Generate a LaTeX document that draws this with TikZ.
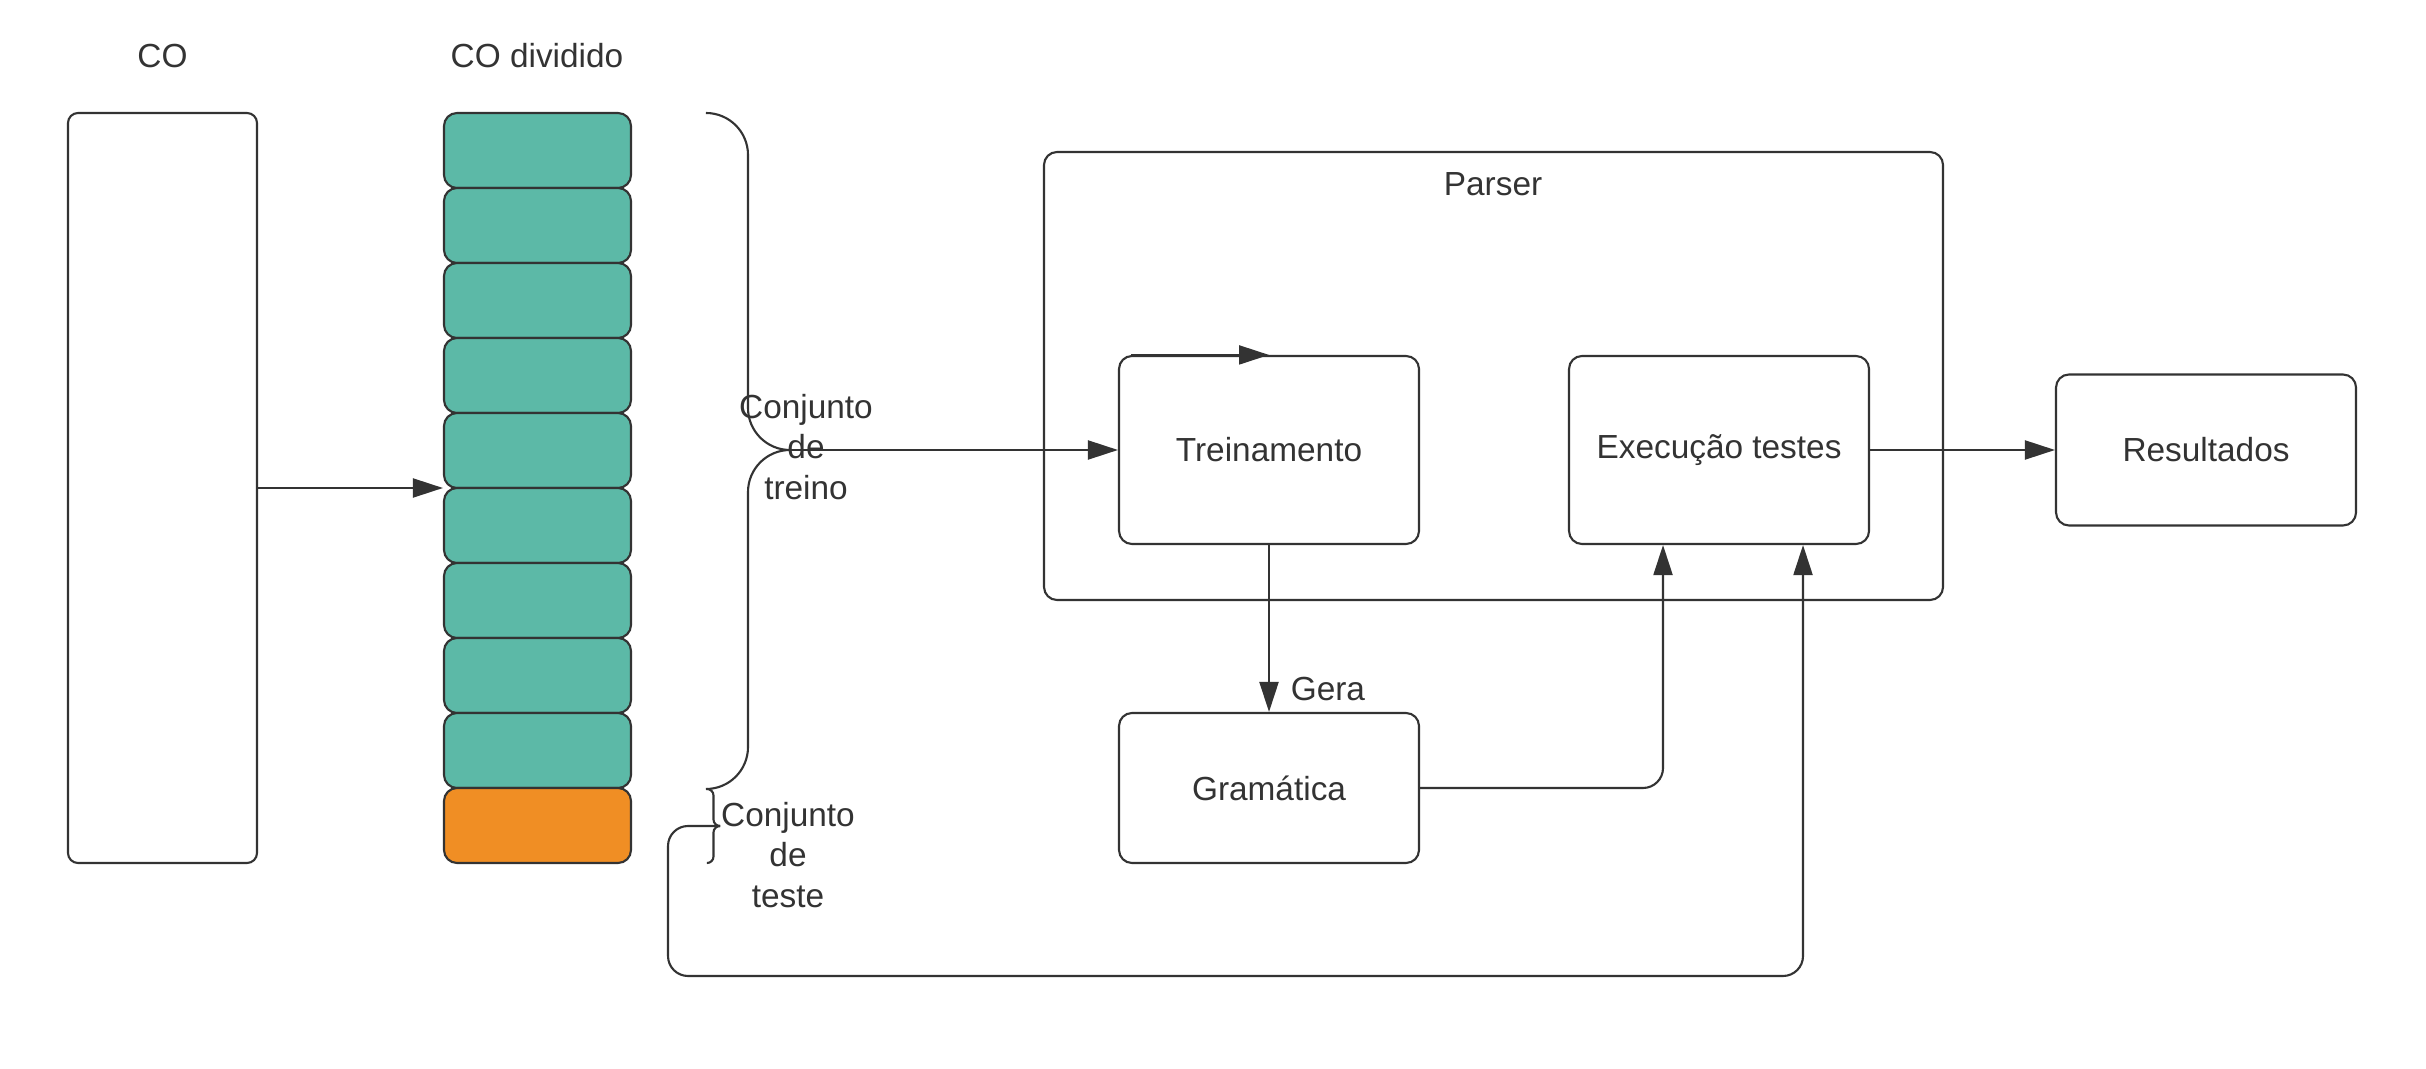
\documentclass[tikz,border=0pt]{standalone}
\usepackage{fontspec}
\setmainfont{Liberation Sans}
\usetikzlibrary{arrows.meta}

\definecolor{linegray}{HTML}{333333}
\definecolor{segteal}{HTML}{5CB9A7}
\definecolor{segorange}{HTML}{F08E24}

\begin{document}
\begin{tikzpicture}[x=1cm, y=-1cm,
		every node/.style={text=linegray, font=\fontsize{9.5}{11.6}\selectfont},
		box/.style={draw=linegray, line width=0.6pt, rounded corners=1.3mm, inner sep=0pt,
			minimum width=3cm, minimum height=1.88cm},
		seg/.style={draw=linegray, line width=0.6pt, rounded corners=1.3mm, inner sep=0pt,
			minimum width=1.87cm, minimum height=0.75cm},
		line/.style={draw=linegray, line width=0.6pt},
		arrow/.style={line, -{Triangle[length=0.3cm, width=0.19cm]}}]
		\useasboundingbox (0, 0) rectangle (24.26, 10.69);
		
		% CO
		\node (colabel) at (1.625, 0.56) {CO};
		\node[box, rounded corners=1mm, minimum width=1.89cm, minimum height=7.5cm] (co) at (1.625, 4.88) {};
		
		% CO dividido: 9 parts for training, 1 for test
		\node (divlabel) at (5.37, 0.56) {CO dividido};
		\foreach \i in {1,...,9}
			\node[seg, fill=segteal] (seg\i) at (5.375, {1.13 + 0.75*(\i - 0.5)}) {};
		\node[seg, fill=segorange] (seg10) at (5.375, 8.255) {};
		
		\draw[arrow] (co.east) -- (co.east -| seg5.south west);
		
		% braces
		\coordinate (treinotip) at (7.90, 4.50);
		\coordinate (testetip) at (7.20, 8.26);
		\draw[line, rounded corners=0.42cm] (7.06, 1.13) -- (7.48, 1.13) -- (7.48, 4.50) -- (treinotip);
		\draw[line, rounded corners=0.42cm] (treinotip) -- (7.48, 4.50) -- (7.48, 7.89) -- (7.06, 7.89);
		\draw[line, rounded corners=0.065cm] (7.07, 7.89) -- (7.135, 7.89) -- (7.135, 8.26) -- (testetip);
		\draw[line, rounded corners=0.065cm] (testetip) -- (7.135, 8.26) -- (7.135, 8.63) -- (7.07, 8.63);
		\node[align=center] (treinolabel) at (8.06, 4.47) {Conjunto\\de\\treino};
		\node[align=center] (testelabel) at (7.88, 8.55) {Conjunto\\de\\teste};
		
		% Parser
		\node[box, minimum width=8.99cm, minimum height=4.48cm] (parser) at (14.935, 3.76) {};
		\node (parserlabel) at (14.93, 1.84) {Parser};
		\node[box] (treino) at (12.69, 4.50) {Treinamento};
		\node[box] (exec) at (17.19, 4.50) {Execução testes};
		\node[box, minimum height=1.51cm] (result) at (22.06, 4.50) {Resultados};
		\node[box, minimum height=1.5cm] (gram) at (12.69, 7.88) {Gramática};
		
		\draw[arrow] (treinotip) -- (treinotip -| treino.west);
		\draw[arrow] ([xshift=1.3mm]treino.north west) -- (treino.north);
		\draw[arrow] (treino) -- node[pos=0.86, anchor=west, xshift=0.9mm] (gera) {Gera} (gram);
		\draw[arrow] (exec) -- (result);
		\draw[arrow, rounded corners=2mm] (gram.east) -| ([xshift=-0.56cm]exec.south);
		
		% test set goes back to the tests
		\coordinate (loopcorner) at (6.68, 9.76);
		\draw[arrow, rounded corners=2mm] (testetip) -| (loopcorner) -| ([xshift=0.84cm]exec.south);
	\end{tikzpicture}
\end{document}
